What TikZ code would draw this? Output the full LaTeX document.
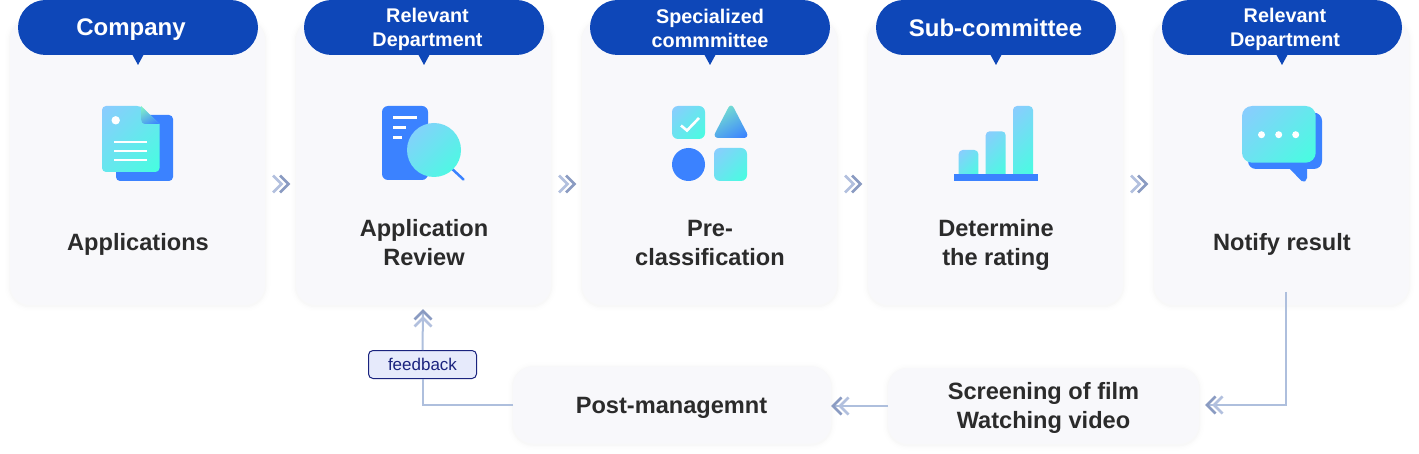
\documentclass[tikz,border=0pt]{standalone}
\usepackage{fontspec}
\setmainfont{Liberation Sans}
\definecolor{cardc}{HTML}{F8F8FB}
\definecolor{pillc}{HTML}{0E47B8}
\definecolor{inkc}{HTML}{2B2B2B}
\definecolor{bluec}{HTML}{3B82FF}
\definecolor{gradA}{HTML}{8CCBFF}
\definecolor{gradB}{HTML}{45FFDF}
\definecolor{gradC}{HTML}{7FF0C8}
\definecolor{chevL}{HTML}{B2C0DE}
\definecolor{chevD}{HTML}{8A9BC2}
\definecolor{flowc}{HTML}{AEBFDD}
\definecolor{navyc}{HTML}{1A237E}
\definecolor{badgec}{HTML}{E6EAFB}
\pgfdeclareverticalshading{softgrad}{100bp}{color(0bp)=(gradB); color(15bp)=(gradB); color(85bp)=(gradA); color(100bp)=(gradA)}
\pgfdeclareverticalshading{trigrad}{100bp}{color(0bp)=(bluec); color(20bp)=(bluec); color(80bp)=(gradC); color(100bp)=(gradC)}
\tikzset{
  softbox/.style={rectangle,rounded corners=20pt,fill=cardc,inner sep=0pt,outer sep=0pt,
    preaction={draw=black,draw opacity=.004,line width=11pt,transform canvas={yshift=-1pt}},
    preaction={draw=black,draw opacity=.005,line width=8pt,transform canvas={yshift=-1pt}},
    preaction={draw=black,draw opacity=.007,line width=5pt,transform canvas={yshift=-1pt}},
    preaction={draw=black,draw opacity=.012,line width=2.5pt,transform canvas={yshift=-1pt}}},
  cardbox/.style={softbox,minimum width=255pt,minimum height=285pt},
  pillbox/.style={rectangle,rounded corners=27.5pt,fill=pillc,minimum width=240pt,minimum height=55pt,inner sep=0pt,outer sep=0pt},
  bigtext/.style={text=inkc,align=center,inner sep=0pt,font=\fontsize{23.6}{29}\selectfont\bfseries},
  headbig/.style={text=white,align=center,inner sep=0pt,font=\fontsize{24}{29}\selectfont\bfseries},
  headsmall/.style={text=white,align=center,inner sep=0pt,font=\fontsize{19.8}{24}\selectfont\bfseries},
  flow/.style={draw=flowc,line width=2pt},
  badge/.style={rectangle,rounded corners=4.5pt,draw=navyc,fill=badgec,line width=1pt,minimum width=108pt,minimum height=28pt,inner sep=0pt,text=navyc,font=\fontsize{17}{20}\selectfont},
  grad/.style={shading=softgrad,shading angle=45},
  gradtri/.style={shading=trigrad,shading angle=30},
  whiteline/.style={draw=white,line width=3pt},
  chev/.pic={
    \draw[chevL,line width=2.8pt] (-8,-8.5)--(0.5,0)--(-8,8.5);
    \draw[chevD,line width=2.8pt] (-1,-8.5)--(7.5,0)--(-1,8.5);
  }
}
\begin{document}
\begin{tikzpicture}[x=1pt,y=-1pt]
\useasboundingbox (0,0) rectangle (1419,454);
\fill[white] (0,0) rectangle (1419,454);
% cards
\node[cardbox] (c1) at (137.5,162.5) {};
\node[cardbox] (c2) at (423.5,162.5) {};
\node[cardbox] (c3) at (709.5,162.5) {};
\node[cardbox] (c4) at (995.5,162.5) {};
\node[cardbox] (c5) at (1281.5,162.5) {};
\node[softbox,minimum width=318pt,minimum height=77pt] (post) at (672,405) {};
\node[softbox,minimum width=311pt,minimum height=76pt] (scr) at (1043.5,406) {};
% pills
\foreach \n/\x in {p1/138,p2/424,p3/710,p4/996,p5/1282}{
  \node[pillbox] (\n) at (\x,27.5) {};
  \fill[pillc] (\n.south) ++(-6,-1) -- ++(12,0) -- ++(-6,11) -- cycle;
}
\node[headbig] (t1) at (131,29.5) {Company};
\node[headsmall] (t2) at (427.5,29.5) {Relevant\\Department};
\node[headsmall] (t3) at (710,28.5) {Specialized\\commmittee};
\node[headbig] (t4) at (995.5,28) {Sub-committee};
\node[headsmall] (t5) at (1285,29.5) {Relevant\\Department};
% card labels
\node[bigtext] (l1) at (138,244.5) {Applications};
\node[bigtext] (l2) at (424,242.5) {Application\\Review};
\node[bigtext] (l3) at (710,242.5) {Pre-\\classification};
\node[bigtext] (l4) at (996,244.5) {Determine\\the rating};
\node[bigtext] (l5) at (1282,244) {Notify result};
\node[bigtext] (l6) at (671.5,408) {Post-managemnt};
\node[bigtext] (l7) at (1043.5,408) {Screening of film\\Watching video};
% icon 1
\fill[bluec,rounded corners=4pt] (116,115) rectangle (173,181);
\shade[grad] (141,106) -- (159.5,124) [rounded corners=4pt] -- (159.5,172) -- (102,172) -- (102,106) -- cycle;
\shade[gradtri] (141,106) -- (159.5,124) -- (146,124) .. controls (142.5,124) and (141,122) .. (141,119) -- cycle;
\fill[white] (115.7,120.3) circle (4.2);
\foreach \yy in {142,151,160}{\draw[whiteline,line width=2.6pt] (114,\yy) -- (147,\yy);}
% icon 2
\fill[bluec,rounded corners=6pt] (382,106) rectangle (428,180);
\draw[whiteline] (393,118) -- (417,118);
\draw[whiteline] (393,128) -- (406,128);
\draw[whiteline] (393,138) -- (402,138);
\draw[bluec,line width=2.5pt,line cap=round] (450,167) -- (463.5,179.5);
\shade[grad] (434,150) circle (27);
% icon 3
\shade[grad,rounded corners=6pt] (672,106) rectangle (705,139);
\draw[whiteline,line width=2.6pt] (681,125.5) -- (687,130.5) -- (699,118);
\shade[gradtri,rounded corners=6pt] (731,102.5) -- (749.5,138) -- (712.5,138) -- cycle;
\fill[bluec] (688.5,164.5) circle (16.5);
\shade[grad,rounded corners=6pt] (714,148) rectangle (747,181);
% icon 4
\shade[grad,rounded corners=4pt] (958.7,150) rectangle (978.3,178);
\shade[grad,rounded corners=4pt] (985.7,131.3) rectangle (1005.7,178);
\shade[grad,rounded corners=4pt] (1013,106) rectangle (1033,178);
\fill[bluec] (953.7,174.3) rectangle (1037.7,180.7);
% icon 5
\fill[bluec,rounded corners=8pt] (1248,112.7) rectangle (1322,169);
\fill[bluec,rounded corners=2pt] (1288,167) -- (1303,182.5) -- (1307,180) -- (1307,167) -- cycle;
\shade[grad,rounded corners=10pt] (1242,106) rectangle (1315.7,162.7);
\foreach \xx in {1261.5,1278.7,1295.7}{\fill[white] (\xx,134.7) circle (3.5);}
% top chevrons
\coordinate (a1) at (281,184);
\coordinate (a2) at (567,184);
\coordinate (a3) at (853,184);
\coordinate (a4) at (1139,184);
\foreach \a in {a1,a2,a3,a4}{\pic at (\a) {chev};}
% lower connectors
\coordinate (n1) at (1286,292);
\coordinate (tip1) at (1208,405);
\coordinate (tip2) at (834,406);
\coordinate (tip3) at (423,312);
\node[badge] (fb) at (422.5,364.5) {feedback};
\draw[flow] (n1) |- (tip1);
\draw[flow] (scr.west) -- (tip2);
\draw[flow] (post.west) -| (fb.south);
\draw[flow] (fb.north) -- (tip3);
\pic[rotate=180] at (1214.5,405) {chev};
\pic[rotate=180] at (840.5,406) {chev};
\pic[rotate=90] at (423,318.5) {chev};
\end{tikzpicture}
\end{document}
